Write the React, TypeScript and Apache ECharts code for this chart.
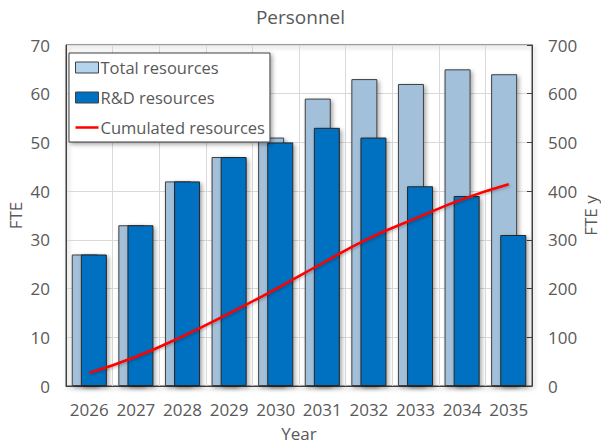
import React, { useEffect, useRef } from "react";
import * as echarts from "echarts";

const years = ["2026", "2027", "2028", "2029", "2030", "2031", "2032", "2033", "2034", "2035"];
const totalResources = [27, 33, 42, 47, 51, 59, 63, 62, 65, 64];
const rdResources = [27, 33, 42, 47, 50, 53, 51, 41, 39, 31];
const cumulatedResources = [27, 60, 102, 149, 199, 252, 303, 344, 383, 414];

const FONT = "'Open Sans', sans-serif";
const TXT = "#595959";

export default function App() {
  const ref = useRef<HTMLDivElement>(null);
  useEffect(() => {
    if (!ref.current) return;
    const chart = echarts.init(ref.current, undefined, { renderer: "svg" });
    chart.setOption({
      animation: false,
      textStyle: { fontFamily: FONT },
      title: {
        text: "Personnel",
        left: "center",
        top: 2,
        textStyle: { fontFamily: FONT, fontSize: 19, fontWeight: "normal", color: TXT },
      },
      grid: {
        left: 66,
        right: 69,
        top: 45,
        bottom: 58,
        outerBoundsMode: "none",
        containLabel: false,
        show: true,
        borderColor: "#404040",
        borderWidth: 1,
        backgroundColor: "rgba(0,0,0,0)",
        shadowBlur: 4,
        shadowColor: "rgba(0,0,0,0.35)",
        shadowOffsetX: 2,
        shadowOffsetY: 2,
      },
      legend: {
        orient: "vertical",
        left: 69,
        top: 53,
        padding: [6, 5, 6, 6],
        itemGap: 13,
        itemWidth: 23,
        itemHeight: 11,
        backgroundColor: "#ffffff",
        borderColor: "#404040",
        borderWidth: 1,
        shadowBlur: 4,
        shadowColor: "rgba(0,0,0,0.35)",
        shadowOffsetX: 2,
        shadowOffsetY: 2,
        textStyle: { fontFamily: FONT, fontSize: 16.5, color: TXT, padding: [0, 0, 0, -3] },
        data: [
          { name: "Total resources", icon: "rect", itemStyle: { color: "#b4d4ee", borderColor: "#404040", borderWidth: 1 } },
          { name: "R&D resources", icon: "rect", itemStyle: { color: "#0070c0", borderColor: "#404040", borderWidth: 1 } },
          {
            name: "Cumulated resources",
            icon: "path://M0,0L23,0L23,2.5L0,2.5Z",
            itemStyle: { color: "#ff0000", borderWidth: 0 },
          },
        ],
      },
      xAxis: {
        type: "category",
        data: years,
        boundaryGap: true,
        name: "Year",
        nameLocation: "middle",
        nameGap: 39,
        nameMoveOverlap: false,
        nameTextStyle: { fontFamily: FONT, fontSize: 17, color: TXT },
        axisLine: { show: true, lineStyle: { color: "#404040" } },
        axisTick: { show: false },
        axisLabel: { fontFamily: FONT, fontSize: 17, color: TXT, margin: 15, interval: 0 },
        splitLine: { show: true, interval: 0, lineStyle: { color: "#d9d9d9", width: 1 } },
      },
      yAxis: [
        {
          type: "value",
          min: 0,
          max: 70,
          interval: 10,
          name: "FTE",
          nameLocation: "middle",
          nameRotate: 90,
          nameGap: 42,
          nameMoveOverlap: false,
          nameTextStyle: { fontFamily: FONT, fontSize: 17, color: TXT },
          axisLine: { show: true, lineStyle: { color: "#404040" } },
          axisTick: { show: false },
          axisLabel: { fontFamily: FONT, fontSize: 17, color: TXT, margin: 16 },
          splitLine: { show: true, lineStyle: { color: "#d9d9d9", width: 1 } },
        },
        {
          type: "value",
          min: 0,
          max: 700,
          interval: 100,
          name: "FTE y",
          nameLocation: "middle",
          nameRotate: 90,
          nameGap: 50,
          nameMoveOverlap: false,
          nameTextStyle: { fontFamily: FONT, fontSize: 17, color: TXT },
          axisLine: { show: true, lineStyle: { color: "#404040" } },
          axisTick: { show: true, inside: true, length: 5, lineStyle: { color: "#404040" } },
          axisLabel: { fontFamily: FONT, fontSize: 17, color: TXT, margin: 16 },
          splitLine: { show: false },
        },
      ],
      series: [
        {
          name: "Total resources",
          type: "bar",
          data: totalResources,
          barWidth: 26,
          barGap: "-65%",
          itemStyle: {
            color: "#a2c0d9",
            borderColor: "#404040",
            borderWidth: 1,
            shadowBlur: 4,
            shadowColor: "rgba(0,0,0,0.35)",
            shadowOffsetX: 2,
            shadowOffsetY: 2,
          },
        },
        {
          name: "R&D resources",
          type: "bar",
          data: rdResources,
          barWidth: 26,
          barGap: "-65%",
          itemStyle: {
            color: "#0070c0",
            borderColor: "#262626",
            borderWidth: 1,
            shadowBlur: 4,
            shadowColor: "rgba(0,0,0,0.35)",
            shadowOffsetX: 2,
            shadowOffsetY: 2,
          },
        },
        {
          name: "Cumulated resources",
          type: "line",
          yAxisIndex: 1,
          data: cumulatedResources,
          smooth: true,
          symbol: "none",
          showSymbol: false,
          itemStyle: { color: "#ff0000" },
          lineStyle: {
            color: "#ff0000",
            width: 2.5,
            shadowBlur: 3,
            shadowColor: "rgba(0,0,0,0.3)",
            shadowOffsetX: 1,
            shadowOffsetY: 1,
          },
        },
      ],
    });
    return () => chart.dispose();
  }, []);
  return <div ref={ref} style={{ width: 601, height: 444, position: "absolute", left: 0, top: 0 }} />;
}
